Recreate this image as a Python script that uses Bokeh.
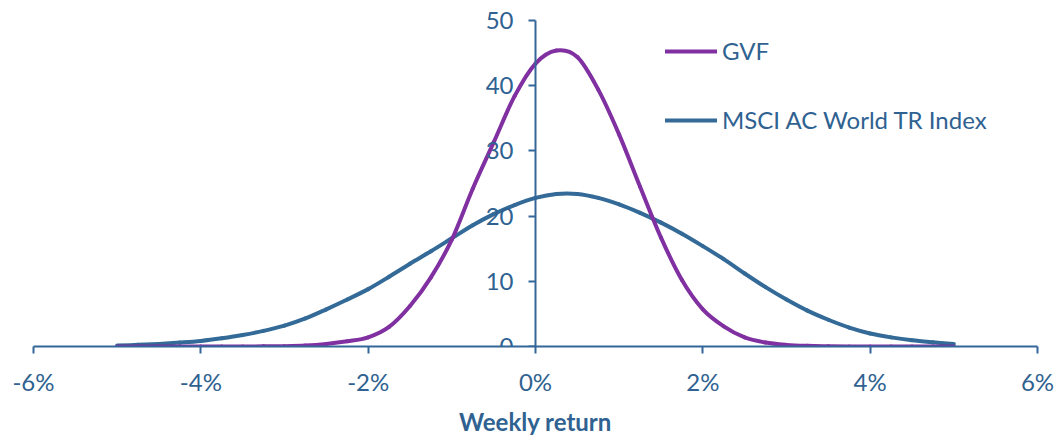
from bokeh.plotting import figure
from bokeh.models import (LinearAxis, FixedTicker, PrintfTickFormatter, Legend,
                          LegendItem, Range1d, ColumnDataSource)
from bokeh.embed import file_html
from bokeh.resources import INLINE

# Weekly return (%)
returns = [-5.0, -4.75, -4.5, -4.25, -4.0, -3.75, -3.5, -3.25, -3.0, -2.75,
           -2.5, -2.25, -2.0, -1.75, -1.5, -1.25, -1.0, -0.75, -0.5, -0.25,
           0.0, 0.25, 0.5, 0.75, 1.0, 1.25, 1.5, 1.75, 2.0, 2.25,
           2.5, 2.75, 3.0, 3.25, 3.5, 3.75, 4.0, 4.25, 4.5, 4.75, 5.0]
gvf = [0.0, 0.0, 0.0, 0.0, 0.0, 0.0, 0.0, 0.02, 0.05, 0.15,
       0.4, 0.8, 1.4, 3.0, 6.2, 10.6, 16.4, 24.2, 31.3, 38.4,
       43.4, 45.4, 44.4, 39.4, 32.5, 24.5, 16.7, 10.2, 5.7, 3.1,
       1.4, 0.6, 0.25, 0.1, 0.04, 0.0, 0.0, 0.0, 0.0, 0.0, 0.0]
msci = [0.15, 0.25, 0.4, 0.6, 0.85, 1.25, 1.75, 2.4, 3.2, 4.3,
        5.7, 7.2, 8.8, 10.7, 12.7, 14.6, 16.6, 18.6, 20.3, 21.7,
        22.8, 23.4, 23.4, 22.8, 21.8, 20.5, 19.0, 17.3, 15.4, 13.4,
        11.2, 9.1, 7.2, 5.5, 4.1, 2.9, 2.0, 1.4, 0.95, 0.65, 0.4]
series_names = ["GVF", "MSCI AC World TR Index"]
x_ticks = [-6, -4, -2, 0, 2, 4, 6]
y_ticks = [0, 10, 20, 30, 40, 50]

TEXT = "#2F6291"
AXIS = "#33679A"
PURPLE = "#8030A0"
BLUE = "#336A97"
FONT = "Lato"


def smooth_source(xs, ys):
    """Bezier segments through the data points (like a smoothed Excel line)."""
    n = len(xs)
    d = dict(x0=[], y0=[], x1=[], y1=[], cx0=[], cy0=[], cx1=[], cy1=[])
    for i in range(n - 1):
        xa, ya = xs[max(i - 1, 0)], ys[max(i - 1, 0)]
        xb, yb = xs[i], ys[i]
        xc, yc = xs[i + 1], ys[i + 1]
        xd, yd = xs[min(i + 2, n - 1)], ys[min(i + 2, n - 1)]
        d["x0"].append(xb); d["y0"].append(yb)
        d["x1"].append(xc); d["y1"].append(yc)
        d["cx0"].append(xb + (xc - xa) / 6); d["cy0"].append(max(yb + (yc - ya) / 6, 0))
        d["cx1"].append(xc - (xd - xb) / 6); d["cy1"].append(max(yc - (yd - yb) / 6, 0))
    return ColumnDataSource(d)


p = figure(frame_width=1004, frame_height=342,
           x_range=Range1d(-6, 6), y_range=Range1d(0, 342 / 6.52),
           output_backend="svg", toolbar_location=None,
           x_axis_location=None, y_axis_location=None,
           min_border_left=33, min_border_right=19, min_border_top=4,
           min_border_bottom=0)
p.outline_line_color = None
p.xgrid.visible = False
p.ygrid.visible = False

xaxis = LinearAxis(ticker=FixedTicker(ticks=x_ticks),
                   formatter=PrintfTickFormatter(format="%d%%"),
                   axis_label="Weekly return")
yaxis = LinearAxis(ticker=FixedTicker(ticks=y_ticks), fixed_location=0,
                   bounds=(0, 50))
for ax in (xaxis, yaxis):
    ax.axis_line_color = AXIS
    ax.axis_line_width = 2
    ax.major_tick_line_color = AXIS
    ax.major_tick_line_width = 2
    ax.major_tick_in = 0
    ax.major_tick_out = 7
    ax.minor_tick_line_color = None
    ax.major_label_text_font = FONT
    ax.major_label_text_font_size = "24px"
    ax.major_label_text_color = TEXT
xaxis.major_label_standoff = 13
xaxis.axis_label_text_font = FONT
xaxis.axis_label_text_font_size = "24px"
xaxis.axis_label_text_font_style = "bold"
xaxis.axis_label_text_color = TEXT
xaxis.axis_label_standoff = 8
yaxis.major_label_standoff = 15
p.add_layout(xaxis, "below")
p.add_layout(yaxis, "left")

r_msci = p.bezier("x0", "y0", "x1", "y1", "cx0", "cy0", "cx1", "cy1",
                  source=smooth_source(returns, msci), line_color=BLUE,
                  line_width=4, line_cap="round")
r_gvf = p.bezier("x0", "y0", "x1", "y1", "cx0", "cy0", "cx1", "cy1",
                 source=smooth_source(returns, gvf), line_color=PURPLE,
                 line_width=4, line_cap="round")

legend = Legend(items=[LegendItem(label=series_names[0], renderers=[r_gvf], index=0),
                       LegendItem(label=series_names[1], renderers=[r_msci], index=0)],
                location=(632, 212), padding=0, margin=0, spacing=40,
                glyph_width=52, glyph_height=24, label_height=24,
                label_standoff=5, border_line_color=None,
                background_fill_alpha=0)
legend.label_text_font = FONT
legend.label_text_font_size = "24px"
legend.label_text_color = TEXT
p.add_layout(legend)

open("out.html", "w").write(file_html(p, INLINE))
